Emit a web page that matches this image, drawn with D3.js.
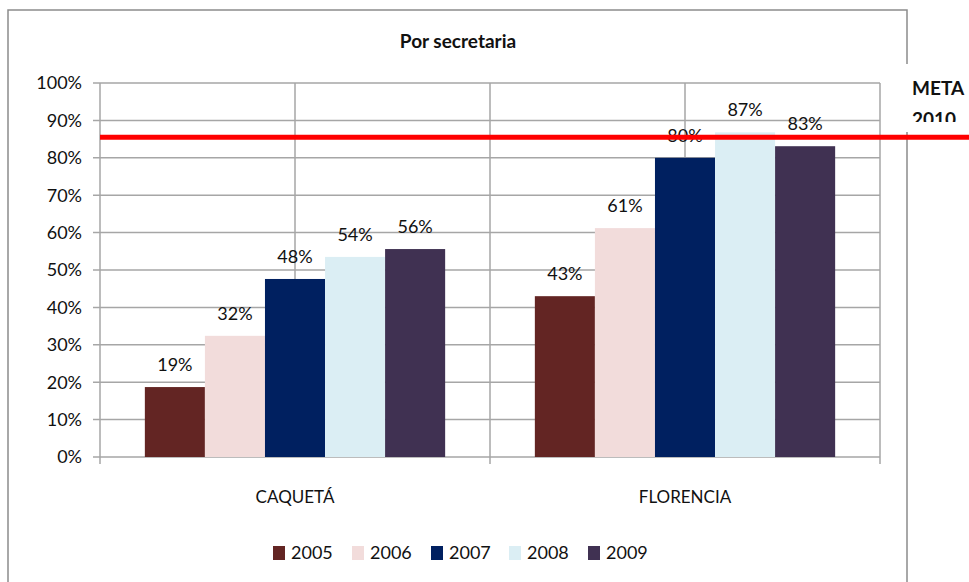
<!DOCTYPE html>
<html>
<head>
<meta charset="utf-8">
<script src="https://cdn.jsdelivr.net/npm/d3@7"></script>
<style>
  body { margin: 0; background: #fff; }
  svg text { font-family: Lato, "Open Sans", sans-serif; fill: #111; }
</style>
</head>
<body>
<div id="chart-container"></div>
<script>
// Data
const categories = ["CAQUETÁ", "FLORENCIA"];
const years = ["2005", "2006", "2007", "2008", "2009"];
const caqueta = [0.187, 0.324, 0.476, 0.535, 0.556];
const florencia = [0.43, 0.612, 0.80, 0.868, 0.831];
const meta = 0.855;
const yTicks = [0, 0.1, 0.2, 0.3, 0.4, 0.5, 0.6, 0.7, 0.8, 0.9, 1];
const colors = ["#632523", "#F2DCDB", "#002060", "#DBEEF4", "#403152"];

const seriesByCat = [caqueta, florencia];

const width = 969, height = 582;
const margin = {top: 83, right: 89, bottom: 124, left: 100};

const svg = d3.select("#chart-container").append("svg")
  .attr("width", width).attr("height", height);

// Outer frame (top, left, right)
svg.append("path")
  .attr("d", `M8,${height} L8,10 L907,10 L907,${height}`)
  .attr("fill", "none").attr("stroke", "#8c8c8c").attr("stroke-width", 1.5);

// Title
svg.append("text")
  .text("Por secretaria")
  .attr("x", 458).attr("y", 48)
  .attr("text-anchor", "middle")
  .style("font-weight", "bold").style("font-size", "19px");

// Scales
const x = d3.scaleBand()
  .domain(categories)
  .range([margin.left, width - margin.right]);
const xInner = d3.scaleBand()
  .domain(years)
  .range([x.bandwidth() * 0.115, x.bandwidth() * 0.885]);
const y = d3.scaleLinear()
  .domain([0, 1])
  .range([height - margin.bottom - 1, margin.top]);

const chart = svg.append("g");

// Horizontal gridlines
chart.append("g").selectAll("line")
  .data(yTicks)
  .join("line")
  .attr("x1", margin.left - 7).attr("x2", width - margin.right)
  .attr("y1", d => y(d)).attr("y2", d => y(d))
  .attr("stroke", "#a6a6a6").attr("stroke-width", 1.5);

// Vertical gridlines
const vLines = [];
categories.forEach(c => { vLines.push(x(c)); vLines.push(x(c) + x.bandwidth() / 2); });
vLines.push(width - margin.right);
chart.append("g").selectAll("line")
  .data(vLines)
  .join("line")
  .attr("x1", d => d).attr("x2", d => d)
  .attr("y1", y(1)).attr("y2", (d, i) => i % 2 === 0 ? y(0) + 7 : y(0))
  .attr("stroke", "#a6a6a6").attr("stroke-width", 1.5);

// Y tick labels
chart.append("g").selectAll("text")
  .data(yTicks)
  .join("text")
  .text(d => d3.format(".0%")(d))
  .attr("x", margin.left - 18)
  .attr("y", d => y(d))
  .attr("dy", "0.35em")
  .attr("text-anchor", "end")
  .style("font-size", "18px");

// Category labels
chart.append("g").selectAll("text")
  .data(categories)
  .join("text")
  .text(d => d)
  .attr("x", d => x(d) + x.bandwidth() / 2)
  .attr("y", 503)
  .attr("text-anchor", "middle")
  .style("font-size", "17px");

// Bars
const groups = chart.append("g").selectAll("g")
  .data(categories)
  .join("g")
  .attr("transform", d => `translate(${x(d)},0)`);

groups.selectAll("rect")
  .data((d, i) => seriesByCat[i].map((v, j) => ({year: years[j], value: v, color: colors[j]})))
  .join("rect")
  .attr("x", d => xInner(d.year))
  .attr("width", xInner.bandwidth())
  .attr("y", d => y(d.value))
  .attr("height", d => y(0) - y(d.value))
  .attr("fill", d => d.color);

// Bar labels
groups.selectAll("text")
  .data((d, i) => seriesByCat[i].map((v, j) => ({year: years[j], value: v})))
  .join("text")
  .text(d => d3.format(".0%")(d.value))
  .attr("x", d => xInner(d.year) + xInner.bandwidth() / 2)
  .attr("y", d => y(d.value) - 16)
  .attr("text-anchor", "middle")
  .style("font-size", "18px");

// META line
chart.append("line")
  .attr("x1", margin.left).attr("x2", width)
  .attr("y1", y(meta)).attr("y2", y(meta))
  .attr("stroke", "#ff0000").attr("stroke-width", 5);

// META label box
svg.append("clipPath").attr("id", "metaClip")
  .append("rect").attr("x", 896).attr("y", 64).attr("width", 73).attr("height", 58);
svg.append("rect")
  .attr("x", 896).attr("y", 64).attr("width", 73).attr("height", 68)
  .attr("fill", "#fff");
const metaG = svg.append("g").attr("clip-path", "url(#metaClip)");
metaG.append("text").text("META").attr("x", 912).attr("y", 95)
  .style("font-weight", "bold").style("font-size", "19px");
metaG.append("text").text("2010").attr("x", 912).attr("y", 126)
  .style("font-weight", "bold").style("font-size", "19px");

// Legend
const legendX = [273, 352, 431, 509, 588];
const legend = svg.append("g").selectAll("g")
  .data(years)
  .join("g")
  .attr("transform", (d, i) => `translate(${legendX[i]},546)`);
legend.append("rect")
  .attr("width", 12).attr("height", 14)
  .attr("fill", (d, i) => colors[i]);
legend.append("text")
  .text(d => d)
  .attr("x", 18).attr("y", 7).attr("dy", "0.35em")
  .style("font-size", "18px");
</script>
</body>
</html>
